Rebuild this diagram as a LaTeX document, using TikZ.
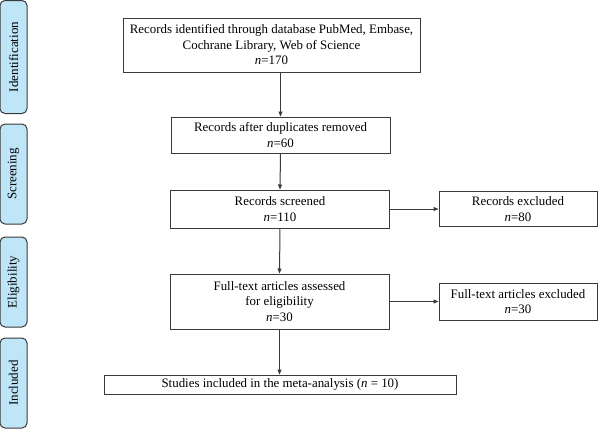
\documentclass[tikz,border=0pt]{standalone}
\usepackage{fontspec}
\setmainfont{Liberation Serif}
\usetikzlibrary{arrows.meta}
\definecolor{linegray}{HTML}{3A3A3A}
\definecolor{sidefill}{HTML}{BFE6F8}
\begin{document}
\begin{tikzpicture}[x=1pt,y=-1pt,
  box/.style={draw=linegray,line width=1pt,fill=white,align=center,inner sep=2pt,
    font=\fontsize{12.9}{15.5}\selectfont},
  side/.style={draw=linegray,line width=1pt,fill=sidefill,rounded corners=5pt,rotate=90,
    minimum height=27pt,inner sep=0pt,font=\fontsize{13}{15}\selectfont},
  arr/.style={draw=linegray,line width=1pt,-{Triangle[length=5pt,width=4pt]}}]
\fill[white] (0,0) rectangle (600,429);
\useasboundingbox (0,0) rectangle (600,429);
% side labels
\node[side,minimum width=113pt] (sid) at (13.5,57) {Identification};
\node[side,minimum width=100pt] (sscr) at (13.5,174) {Screening};
\node[side,minimum width=90pt] (self) at (13.5,282) {Eligibility};
\node[side,minimum width=90pt] (sinc) at (13.5,383) {Included};
% boxes
\node[box,minimum width=297pt,minimum height=54pt] (top) at (271.5,45)
  {Records identified through database PubMed, Embase,\\Cochrane Library, Web of Science\\\textit{n}=170};
\node[box,minimum width=219pt,minimum height=36pt] (b2) at (280.5,135)
  {Records after duplicates removed\\\textit{n}=60};
\node[box,minimum width=219pt,minimum height=38pt] (b3) at (280,209)
  {Records screened\\\textit{n}=110};
\node[box,minimum width=158pt,minimum height=35pt] (ex1) at (518,209)
  {Records excluded\\\textit{n}=80};
\node[box,minimum width=219pt,minimum height=55pt] (b4) at (279.5,301.5)
  {Full-text articles assessed\\for eligibility\\\textit{n}=30};
\node[box,minimum width=158pt,minimum height=37pt] (ex2) at (518,301.5)
  {Full-text articles excluded\\\textit{n}=30};
\node[box,minimum width=352pt,minimum height=19pt,inner sep=1pt] (fin) at (280,384.5)
  {Studies included in the meta-analysis (\textit{n} = 10)};
% connectors
\draw[arr] (b2.north |- top.south) -- (b2.north);
\draw[arr] (b2.south) -- (b3.north);
\draw[arr] (b3.south) -- (b4.north);
\draw[arr] (b4.south) -- (b4.south |- fin.north);
\draw[arr] (b3.east) -- (ex1.west);
\draw[arr] (b4.east) -- (ex2.west);
\end{tikzpicture}
\end{document}
